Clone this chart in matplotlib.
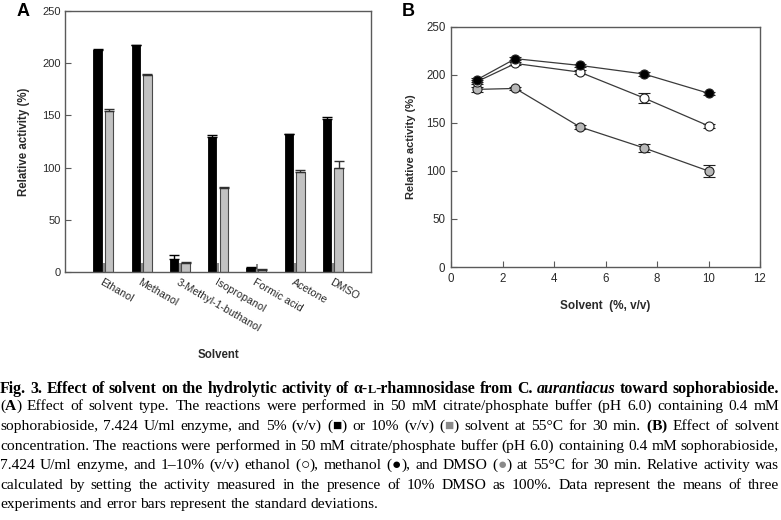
import matplotlib
matplotlib.use('Agg')
import matplotlib.pyplot as plt
import numpy as np

# ---------------- data ----------------
solvents = ['Ethanol', 'Methanol', '3-Methyl-1-buthanol', 'Isopropanol',
            'Formic acid', 'Acetone', 'DMSO']
act_5 = [213, 217, 12, 129, 4, 132, 147]
err_5 = [0.5, 0.5, 4, 2.5, 0.5, 0.5, 1.5]
act_10 = [154, 189, 9, 80, 2, 96, 100]
err_10 = [2, 0.5, 1, 1.5, 0.5, 2, 6]
act_minor = [9, 9, 9, 9, 8, 9, 9]

conc = [1, 2.5, 5, 7.5, 10]
ethanol = [193, 212, 203, 176, 147]
ethanol_err = [2, 2, 2, 5, 2]
methanol = [195, 217, 210, 201, 181]
methanol_err = [2, 1.5, 1.5, 2, 1.5]
dmso = [185, 186, 146, 124, 100]
dmso_err = [3, 2, 2, 4, 6]

yticks = [0, 50, 100, 150, 200, 250]
xticks_b = [0, 2, 4, 6, 8, 10, 12]

# ---------------- figure ----------------
W, H = 781, 520
fig = plt.figure(figsize=(W / 100, H / 100), dpi=100)
SANS = 'Liberation Sans'
SPINE = '#5a5a5a'
TXT = '#2a2a2a'


def px_rect(l, t, r, b):
    return [l / W, 1 - b / H, (r - l) / W, (b - t) / H]


# ---------- Panel A ----------
axA = fig.add_axes(px_rect(65, 11, 371, 272))
x = np.arange(1, len(solvents) + 1)
axA.bar(x - 0.15, act_5, width=0.22, color='black', edgecolor='black', lw=0.6, zorder=2)
axA.bar(x + 0.01, act_minor, width=0.05, color='#8a8a8a', lw=0, zorder=2)
axA.bar(x + 0.155, act_10, width=0.22, color='#c2c2c2', edgecolor='#4a4a4a', lw=0.8, zorder=2)
axA.errorbar(x - 0.15, act_5, yerr=[np.zeros(len(x)), err_5], fmt='none',
             ecolor='black', elinewidth=1, capsize=3.5, capthick=1, zorder=3)
axA.errorbar(x + 0.155, act_10, yerr=[np.zeros(len(x)), err_10], fmt='none',
             ecolor='#303030', elinewidth=1, capsize=3.5, capthick=1, zorder=3)
axA.set_xlim(0, 8)
axA.set_ylim(0, 250)
axA.set_yticks(yticks)
axA.set_xticks(x)
axA.set_xticklabels(solvents, rotation=-30, ha='left', va='top',
                    rotation_mode='anchor', fontsize=7.7, family=SANS, color=TXT)
axA.tick_params(axis='x', length=0, pad=4)
axA.tick_params(axis='y', direction='in', length=4, width=0.8, color=SPINE,
                labelsize=8, labelcolor=TXT, pad=3)
for lab in axA.get_yticklabels():
    lab.set_family(SANS)
for s in axA.spines.values():
    s.set_color(SPINE)
    s.set_linewidth(1.0)
axA.set_ylabel('Relative activity (%)', fontsize=8.3, fontweight='bold',
               family=SANS, color=TXT, labelpad=9)
fig.text(218 / W, 1 - 355 / H, 'Solvent', ha='center', va='center', fontsize=8.3,
         fontweight='bold', family=SANS, color=TXT)
fig.text(17 / W, 1 - 12 / H, 'A', ha='left', va='center', fontsize=13,
         fontweight='bold', family=SANS, color='black')

# ---------- Panel B ----------
axB = fig.add_axes(px_rect(451, 27, 760, 267))
line_kw = dict(fmt='-o', color='#3a3a3a', lw=0.9, ms=6.5, mew=0.8, mec='#202020',
               capsize=4, capthick=0.9, elinewidth=0.9, ecolor='#202020')
axB.errorbar(conc, dmso, yerr=dmso_err, mfc='#b8b8b8', zorder=3, **line_kw)
axB.errorbar(conc, ethanol, yerr=ethanol_err, mfc='white', zorder=4, **line_kw)
axB.errorbar(conc, methanol, yerr=methanol_err, mfc='black', zorder=5, **line_kw)
axB.set_xlim(0, 12)
axB.set_ylim(0, 250)
axB.set_xticks(xticks_b)
axB.set_yticks(yticks)
axB.tick_params(direction='in', length=4, width=0.8, color=SPINE,
                labelsize=8.3, labelcolor=TXT, pad=4)
for lab in axB.get_xticklabels() + axB.get_yticklabels():
    lab.set_family(SANS)
for s in axB.spines.values():
    s.set_color(SPINE)
    s.set_linewidth(1.0)
axB.set_ylabel('Relative activity (%)', fontsize=8, fontweight='bold',
               family=SANS, color=TXT, labelpad=7)
axB.set_xlabel('Solvent  (%, v/v)', fontsize=8.5, fontweight='bold',
               family=SANS, color=TXT, labelpad=11)
fig.text(402 / W, 1 - 12 / H, 'B', ha='left', va='center', fontsize=13,
         fontweight='bold', family=SANS, color='black')

# ---------------- caption ----------------
SERIF = ['Liberation Serif', 'DejaVu Sans']
B = {'weight': 'bold'}
BI = {'weight': 'bold', 'style': 'italic'}
R = {}

title_words = [[('Fig.', B)], [('3.', B)], [('Effect', B)], [('of', B)], [('solvent', B)],
               [('on', B)], [('the', B)], [('hydrolytic', B)], [('activity', B)], [('of', B)],
               [('α-', B), ('L', dict(B, small=True)), ('-rhamnosidase', B)],
               [('from', B)], [('C.', B)], [('aurantiacus', BI)], [('toward', B)],
               [('sophorabioside.', B)]]


def words(s, style=R):
    return [[(w, style)] for w in s.split()]


body_lines = [
    [[('(', R), ('A', B), (')', R)]] + words('Effect of solvent type. The reactions were performed in 50 mM citrate/phosphate buffer (pH 6.0) containing 0.4 mM'),
    words('sophorabioside, 7.424 U/ml enzyme, and 5% (v/v)') +
    [[('(', R), ('■', {'color': 'black'}), (')', R)]] + words('or 10% (v/v)') +
    [[('(', R), ('■', {'color': '#8a8a8a'}), (')', R)]] +
    words('solvent at 55°C for 30 min.') + [[('(', B), ('B', B), (')', B)]] + words('Effect of solvent'),
    words('concentration. The reactions were performed in 50 mM citrate/phosphate buffer (pH 6.0) containing 0.4 mM sophorabioside,'),
    words('7.424 U/ml enzyme, and 1–10% (v/v) ethanol') +
    [[('(', R), ('○', R), ('),', R)]] + words('methanol') +
    [[('(', R), ('●', R), ('),', R)]] + words('and DMSO') +
    [[('(', R), ('●', {'color': '#8a8a8a'}), (')', R)]] +
    words('at 55°C for 30 min. Relative activity was'),
    words('calculated by setting the activity measured in the presence of 10% DMSO as 100%. Data represent the means of three'),
    words('experiments and error bars represent the standard deviations.'),
]

renderer = fig.canvas.get_renderer()
LEFT, RIGHT = 0.0, 779.0


def make_seg(txt, style, fs, xpx, ypx):
    kw = dict(style)
    color = kw.pop('color', 'black')
    small = kw.pop('small', False)
    size = fs * 0.78 if small else fs
    t = fig.text(xpx / W, 1 - ypx / H, txt, fontsize=size, family=SERIF,
                 color=color, ha='left', va='baseline',
                 fontweight=kw.get('weight', 'normal'),
                 fontstyle=kw.get('style', 'normal'))
    return t


def word_width(word, fs):
    tot = 0.0
    for txt, st in word:
        t = make_seg(txt, st, fs, 0, -100)
        tot += t.get_window_extent(renderer).width
        t.remove()
    return tot


def natural_width(line, fs):
    sp = 0.25 * fs * 100 / 72
    return sum(word_width(w, fs) for w in line) + sp * (len(line) - 1)


def place_line(line, fs, ypx, justify=True):
    widths = [word_width(w, fs) for w in line]
    sp = 0.25 * fs * 100 / 72
    if justify and len(line) > 1:
        sp = (RIGHT - LEFT - sum(widths)) / (len(line) - 1)
    xpx = LEFT
    for w, ww in zip(line, widths):
        xx = xpx
        for txt, st in w:
            t = make_seg(txt, st, fs, xx, ypx)
            xx += t.get_window_extent(renderer).width
        xpx += ww + sp


base = 10.0
fs_title = base * (RIGHT - LEFT) / natural_width(title_words, base) * 0.995
fs_body = base * (RIGHT - LEFT) / max(natural_width(l, base) for l in body_lines[:-1]) * 0.99

place_line(title_words, fs_title, 393)
baselines = [410, 430, 450, 469, 489, 508]
for i, (ln, yb) in enumerate(zip(body_lines, baselines)):
    place_line(ln, fs_body, yb, justify=(i < len(body_lines) - 1))

fig.savefig('out.png', dpi=100)
